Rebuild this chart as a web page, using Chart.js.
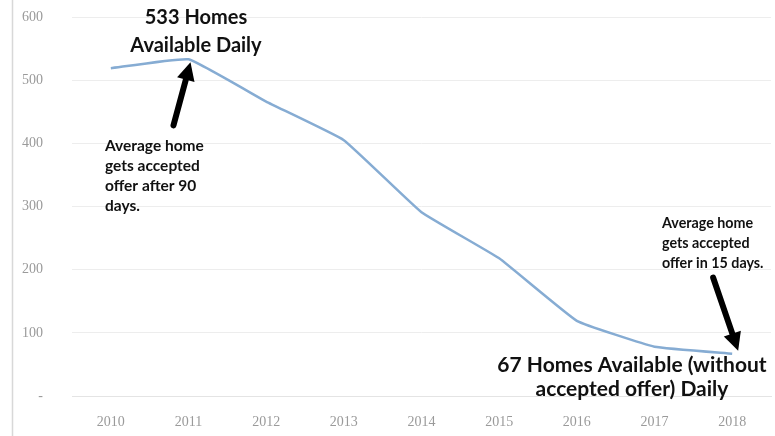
<!DOCTYPE html>
<html>
<head>
<meta charset="utf-8">
<script src="https://cdn.jsdelivr.net/npm/chart.js@4/dist/chart.umd.min.js"></script>
<style>
  html, body { margin: 0; padding: 0; background: #fff; }
  #wrap { width: 775px; height: 436px; position: relative; }
</style>
</head>
<body>
<div id="wrap"><canvas id="myChart"></canvas></div>
<script>
const years = ['2010', '2011', '2012', '2013', '2014', '2015', '2016', '2017', '2018'];
const homesAvailable = [519, 533, 466, 405, 291, 218, 119, 78, 67];
const yTicks = [0, 100, 200, 300, 400, 500, 600];

const boldFont = '"Lato", "Open Sans", sans-serif';

function arrow(ctx, x1, y1, x2, y2) {
  const ang = Math.atan2(y2 - y1, x2 - x1);
  const head = 18;
  const bx = x2 - Math.cos(ang) * head;
  const by = y2 - Math.sin(ang) * head;
  ctx.save();
  ctx.strokeStyle = '#000';
  ctx.fillStyle = '#000';
  ctx.lineWidth = 6;
  ctx.lineCap = 'round';
  ctx.beginPath();
  ctx.moveTo(x1, y1);
  ctx.lineTo(bx, by);
  ctx.stroke();
  ctx.beginPath();
  ctx.moveTo(x2, y2);
  ctx.lineTo(bx + Math.cos(ang + Math.PI / 2) * 9, by + Math.sin(ang + Math.PI / 2) * 9);
  ctx.lineTo(bx + Math.cos(ang - Math.PI / 2) * 9, by + Math.sin(ang - Math.PI / 2) * 9);
  ctx.closePath();
  ctx.fill();
  ctx.restore();
}

function lines(ctx, list, x, y, step, size, align) {
  ctx.font = 'bold ' + size + 'px ' + boldFont;
  ctx.textAlign = align;
  ctx.textBaseline = 'middle';
  ctx.fillStyle = '#111';
  list.forEach((t, i) => ctx.fillText(t, x, y + i * step));
}

const notes = {
  id: 'notes',
  afterDraw(chart) {
    const ctx = chart.ctx;
    const xs = chart.scales.x;
    const ys = chart.scales.y;

    // image border on the left
    ctx.save();
    ctx.strokeStyle = '#d8d8d8';
    ctx.lineWidth = 1.5;
    ctx.beginPath();
    ctx.moveTo(12.5, 0);
    ctx.lineTo(12.5, 436);
    ctx.stroke();
    ctx.restore();

    const px1 = xs.getPixelForValue(1);
    const py1 = ys.getPixelForValue(homesAvailable[1]);
    const px8 = xs.getPixelForValue(8);
    const py8 = ys.getPixelForValue(homesAvailable[8]);

    arrow(ctx, px1 - 15, py1 + 66, px1 + 2, py1 + 3);
    arrow(ctx, px8 - 19, py8 - 76, px8 + 6, py8 - 3);

    lines(ctx, ['533 Homes', 'Available Daily'], 196, 18, 28, 20, 'center');
    lines(ctx, ['Average home', 'gets accepted', 'offer after 90', 'days.'], 105, 146, 20, 15.5, 'left');
    lines(ctx, ['Average home', 'gets accepted', 'offer in 15 days.'], 662, 223, 20, 14.3, 'left');
    lines(ctx, ['67 Homes Available (without', 'accepted offer) Daily'], 632, 365, 24, 21, 'center');
  }
};

new Chart(document.getElementById('myChart'), {
  type: 'line',
  data: {
    labels: years,
    datasets: [
      {
        label: 'Homes available',
        data: homesAvailable,
        borderColor: '#86acd3',
        borderWidth: 2.5,
        pointRadius: 0,
        tension: 0.1,
        fill: false,
      },
    ],
  },
  options: {
    responsive: true,
    maintainAspectRatio: false,
    animation: false,
    layout: { padding: { top: 17, right: 4, left: 0, bottom: 0 } },
    plugins: { legend: { display: false }, tooltip: { enabled: false } },
    scales: {
      x: {
        offset: true,
        grid: { display: false },
        border: { color: '#e4e4e4' },
        ticks: { color: '#9a9a9a', font: { size: 14, family: 'serif' }, padding: 10 },
        afterFit: (s) => { s.height = 40; },
      },
      y: {
        min: 0,
        max: 600,
        afterBuildTicks: (s) => { s.ticks = yTicks.map((v) => ({ value: v })); },
        grid: { color: '#ededed', drawTicks: false },
        border: { display: false },
        ticks: {
          color: '#9a9a9a',
          font: { size: 14, family: 'serif' },
          padding: 29,
          callback: (v) => (v === 0 ? '-' : v),
        },
        afterFit: (s) => {
          s.width = 72;
          s.paddingTop = 0;
          s.paddingBottom = 0;
        },
      },
    },
  },
  plugins: [notes],
});
</script>
</body>
</html>
